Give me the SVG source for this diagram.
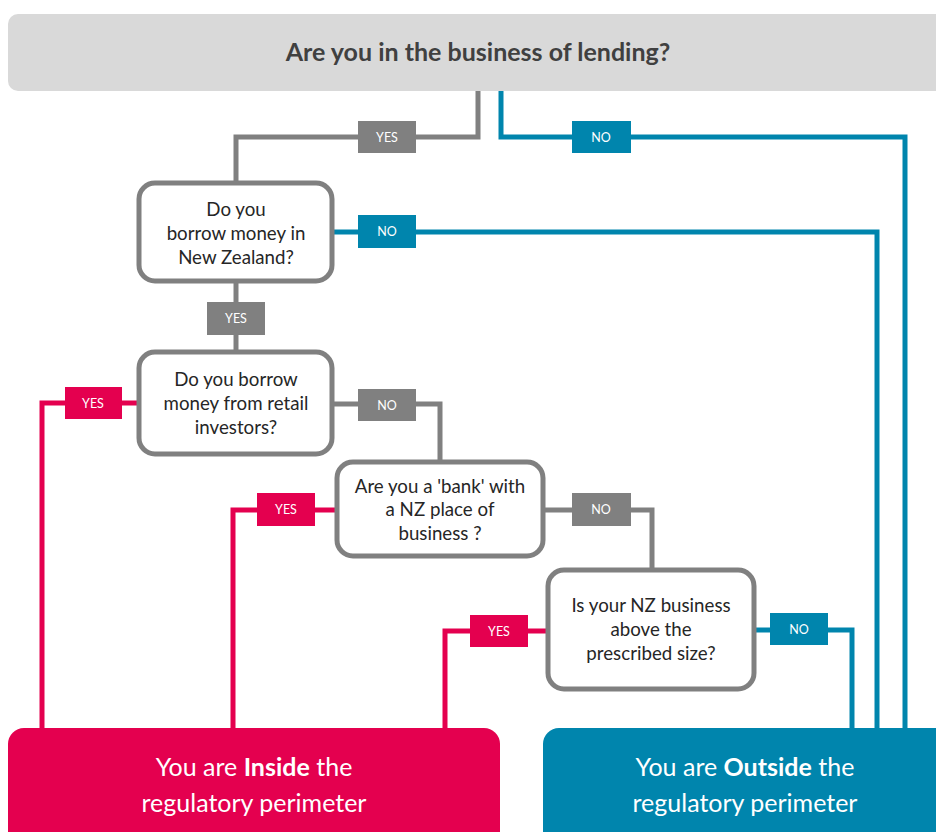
<svg xmlns="http://www.w3.org/2000/svg" width="936" height="832" viewBox="0 0 936 832">
  <style>
    .q { fill: #ffffff; stroke: #808080; stroke-width: 5; }
    .qt { font-family: Lato, "Liberation Sans", sans-serif; font-size: 18.7px; fill: #262626; text-anchor: middle; }
    .w { fill: none; stroke-width: 5; stroke-linejoin: miter; }
    .g { stroke: #808080; }
    .b { stroke: #0085ad; }
    .r { stroke: #e4004f; }
    .lbl { font-family: Lato, "Liberation Sans", sans-serif; font-size: 12.5px; fill: #ffffff; text-anchor: middle; }
    .big { font-family: Lato, "Liberation Sans", sans-serif; font-size: 25px; fill: #ffffff; text-anchor: middle; }
  </style>
  <rect width="936" height="832" fill="#ffffff"/>

  <g id="connectors">
    <!-- lending: yes -->
    <polyline class="w g" points="478,91 478,137 236,137 236,183"/>
    <rect x="358" y="121" width="58" height="32" fill="#808080"/>
    <text class="lbl" x="387" y="142">YES</text>
    <!-- lending: no -->
    <polyline class="w b" points="501,91 501,137 905,137 905,728"/>
    <rect x="572" y="121" width="59" height="32" fill="#0085ad"/>
    <text class="lbl" x="601" y="142">NO</text>
    <!-- borrow in NZ: no -->
    <polyline class="w b" points="332,232 877,232 877,728"/>
    <rect x="358" y="215" width="58" height="33" fill="#0085ad"/>
    <text class="lbl" x="387" y="236">NO</text>
    <!-- borrow in NZ: yes -->
    <line class="w g" x1="236" y1="281" x2="236" y2="352"/>
    <rect x="207" y="302" width="58" height="33" fill="#808080"/>
    <text class="lbl" x="236" y="323">YES</text>
    <!-- retail investors: yes -->
    <polyline class="w r" points="139,403 42,403 42,728"/>
    <rect x="65" y="387" width="57" height="32" fill="#e4004f"/>
    <text class="lbl" x="93" y="408">YES</text>
    <!-- retail investors: no -->
    <polyline class="w g" points="332,404 440,404 440,462"/>
    <rect x="358" y="389" width="58" height="32" fill="#808080"/>
    <text class="lbl" x="387" y="410">NO</text>
    <!-- bank: yes -->
    <polyline class="w r" points="337,510 233,510 233,728"/>
    <rect x="257" y="493" width="58" height="33" fill="#e4004f"/>
    <text class="lbl" x="286" y="514">YES</text>
    <!-- bank: no -->
    <polyline class="w g" points="543,510 652,510 652,570"/>
    <rect x="572" y="493" width="59" height="33" fill="#808080"/>
    <text class="lbl" x="601" y="514">NO</text>
    <!-- prescribed size: yes -->
    <polyline class="w r" points="548,631 445,631 445,728"/>
    <rect x="470" y="615" width="58" height="32" fill="#e4004f"/>
    <text class="lbl" x="499" y="636">YES</text>
    <!-- prescribed size: no -->
    <polyline class="w b" points="754,630 852,630 852,728"/>
    <rect x="770" y="613" width="58" height="32" fill="#0085ad"/>
    <text class="lbl" x="799" y="634">NO</text>
  </g>

  <g id="lending">
    <rect x="8" y="14" width="950" height="77" rx="10" fill="#d9d9d9"/>
    <text x="478" y="61" font-family="Lato, 'Liberation Sans', sans-serif" font-size="25" font-weight="bold" fill="#404040" text-anchor="middle">Are you in the business of lending?</text>
  </g>

  <g id="borrow-nz">
    <rect class="q" x="139" y="183" width="193" height="98" rx="16"/>
    <text class="qt" x="236" y="216">Do you</text>
    <text class="qt" x="236" y="240">borrow money in</text>
    <text class="qt" x="236" y="264">New Zealand?</text>
  </g>

  <g id="retail">
    <rect class="q" x="139" y="352" width="193" height="102" rx="16"/>
    <text class="qt" x="236" y="386">Do you borrow</text>
    <text class="qt" x="236" y="410">money from retail</text>
    <text class="qt" x="236" y="434">investors?</text>
  </g>

  <g id="bank">
    <rect class="q" x="337" y="462" width="206" height="94" rx="16"/>
    <text class="qt" x="440" y="493">Are you a 'bank' with</text>
    <text class="qt" x="440" y="516">a NZ place of</text>
    <text class="qt" x="440" y="540">business ?</text>
  </g>

  <g id="size">
    <rect class="q" x="548" y="570" width="206" height="119" rx="16"/>
    <text class="qt" x="651" y="612">Is your NZ business</text>
    <text class="qt" x="651" y="636">above the</text>
    <text class="qt" x="651" y="660">prescribed size?</text>
  </g>

  <g id="inside">
    <rect x="8" y="728" width="492" height="130" rx="16" fill="#e4004f"/>
    <text class="big" x="254" y="776">You are <tspan font-weight="bold">Inside</tspan> the</text>
    <text class="big" x="254" y="812">regulatory perimeter</text>
  </g>

  <g id="outside">
    <rect x="543" y="728" width="420" height="130" rx="16" fill="#0085ad"/>
    <text class="big" x="745" y="776">You are <tspan font-weight="bold">Outside</tspan> the</text>
    <text class="big" x="745" y="812">regulatory perimeter</text>
  </g>
</svg>
